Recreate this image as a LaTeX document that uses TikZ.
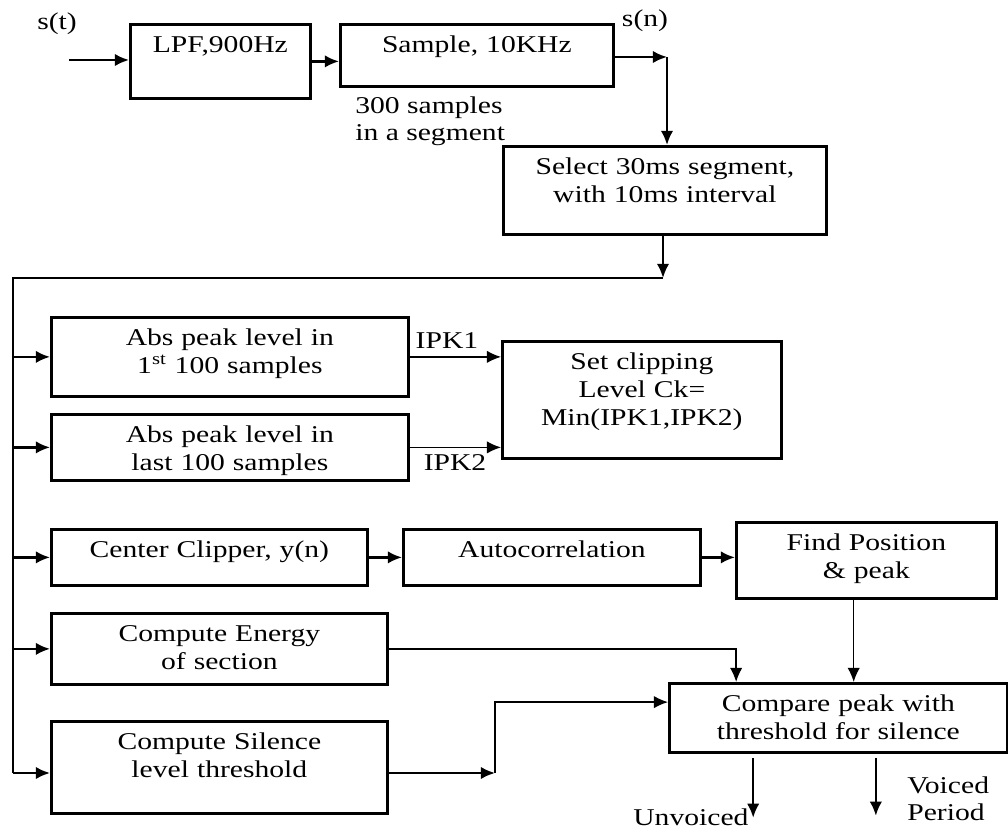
\documentclass[tikz,border=0pt]{standalone}
\usepackage{fontspec}
\setmainfont{Liberation Serif}[FakeStretch=1.23]
\usetikzlibrary{arrows.meta,calc}

\tikzset{
  % processing block: text hangs from the top edge
  blk/.style={draw, rectangle, line width=1.6pt, inner sep=0pt, align=center,
              anchor=north west, text height=5.6mm},
  % free text (signal names, notes)
  lbl/.style={inner sep=0pt},
  % connectors
  sig/.style={-{Latex[length=8pt,width=7pt]}, line width=1.3pt},
  wire/.style={line width=0.8pt},
  wirearr/.style={wire, -{Latex[length=8pt,width=7pt]}}
}

\begin{document}
\begin{tikzpicture}[x=0.02cm, y=-0.02cm, font=\fontsize{13.7}{15.9}\selectfont]
\useasboundingbox (0,0) rectangle (1008,830);

% input chain
\node[lbl] (st) at (57,24) {s(t)};
\coordinate (in) at (69,60);
\node[blk, text width=3.6cm, text depth=9.2mm] (lpf) at (129,23) {LPF,900Hz};
\node[blk, text width=5.46cm, text depth=6.8mm] (smp) at (339,23) {Sample, 10KHz};
\node[lbl, align=left, anchor=north west] (seglen) at (355,96) {300 samples\\in a segment};
\node[lbl] (sn) at (645,21) {s(n)};
\coordinate (snj) at (667,57);
\node[blk, text width=6.46cm, text depth=12mm] (sel) at (502,145) {Select 30ms segment,\\with 10ms interval};

% distribution bus
\coordinate (busr) at (663,278);
\coordinate (busl) at (13,278);
\coordinate (busb) at (13,773);

% clipping level
\node[blk, text width=7.14cm, text depth=10.2mm] (pk1) at (50,316) {Abs peak level in\\1\textsuperscript{st} 100 samples};
\node[blk, text width=7.14cm, text depth=7.6mm] (pk2) at (50,413) {Abs peak level in\\last 100 samples};
\node[blk, text width=5.58cm, text depth=17.8mm] (clv) at (501,340) {Set clipping\\Level Ck=\\Min(IPK1,IPK2)};
\node[lbl] (ipk1) at (447,341) {IPK1};
\node[lbl] (ipk2) at (455,463) {IPK2};

% pitch path
\node[blk, text width=6.32cm, text depth=5.6mm] (clip) at (50,528) {Center Clipper, y(n)};
\node[blk, text width=5.94cm, text depth=5.6mm] (acf) at (402,528) {Autocorrelation};
\node[blk, text width=5.2cm, text depth=9.6mm] (fnd) at (735,521) {Find Position\\\& peak};

% silence decision
\node[blk, text width=6.72cm, text depth=8.6mm] (egy) at (50,612) {Compute Energy\\of section};
\node[blk, text width=6.72cm, text depth=12.8mm] (sil) at (50,720) {Compute Silence\\level threshold};
\node[blk, text width=6.76cm, text depth=8.2mm] (cmp) at (668,682) {Compare peak with\\threshold for silence};
\node[lbl, anchor=base west] (uv) at (633,826) {Unvoiced};
\node[lbl, align=left, anchor=north west] (vp) at (907,776) {Voiced\\Period};

% connectors
\draw[sig] (in) -- (in -| lpf.west);
\draw[sig] (lpf.east) -- (lpf.east -| smp.west);
\draw[sig] (smp.east |- snj) -- (snj);
\draw[sig] (snj) -- (snj |- sel.north);
\draw[sig] (busr |- sel.south) -- (busr);
\draw[wire] (busr) -- (busl) -- (busb);
\foreach \blkname in {pk1,pk2,clip,egy}
  \draw[sig] (busl |- \blkname.west) -- (\blkname.west);
\draw[sig] (busb) -- (busb -| sil.west);

\draw[wirearr] (pk1.east) -- (pk1.east -| clv.west);
\draw[wirearr] (pk2.east) -- (pk2.east -| clv.west);
\draw[sig] (clip.east) -- (acf.west);
\draw[sig] (acf.east) -- (acf.east -| fnd.west);

\coordinate (ein) at ($(cmp.north west)!0.2!(cmp.north east)$);
\coordinate (fin) at ($(cmp.north west)!0.545!(cmp.north east)$);
\coordinate (sin) at ($(cmp.north west)!0.28!(cmp.south west)$);
\coordinate (sj) at (495,773);
\draw[wirearr] (egy.east) -| (ein);
\draw[wirearr] (fin |- fnd.south) -- (fin);
\draw[sig] (sil.east |- sj) -- (sj);
\draw[wirearr] (sj) |- (sin);

\coordinate (uvs) at ($(cmp.south west)!0.25!(cmp.south east)+(0,4)$);
\coordinate (vcs) at ($(cmp.south west)!0.61!(cmp.south east)+(0,4)$);
\draw[sig] (uvs) -- ++(0,60);
\draw[sig] (vcs) -- ++(0,58);

\end{tikzpicture}
\end{document}
